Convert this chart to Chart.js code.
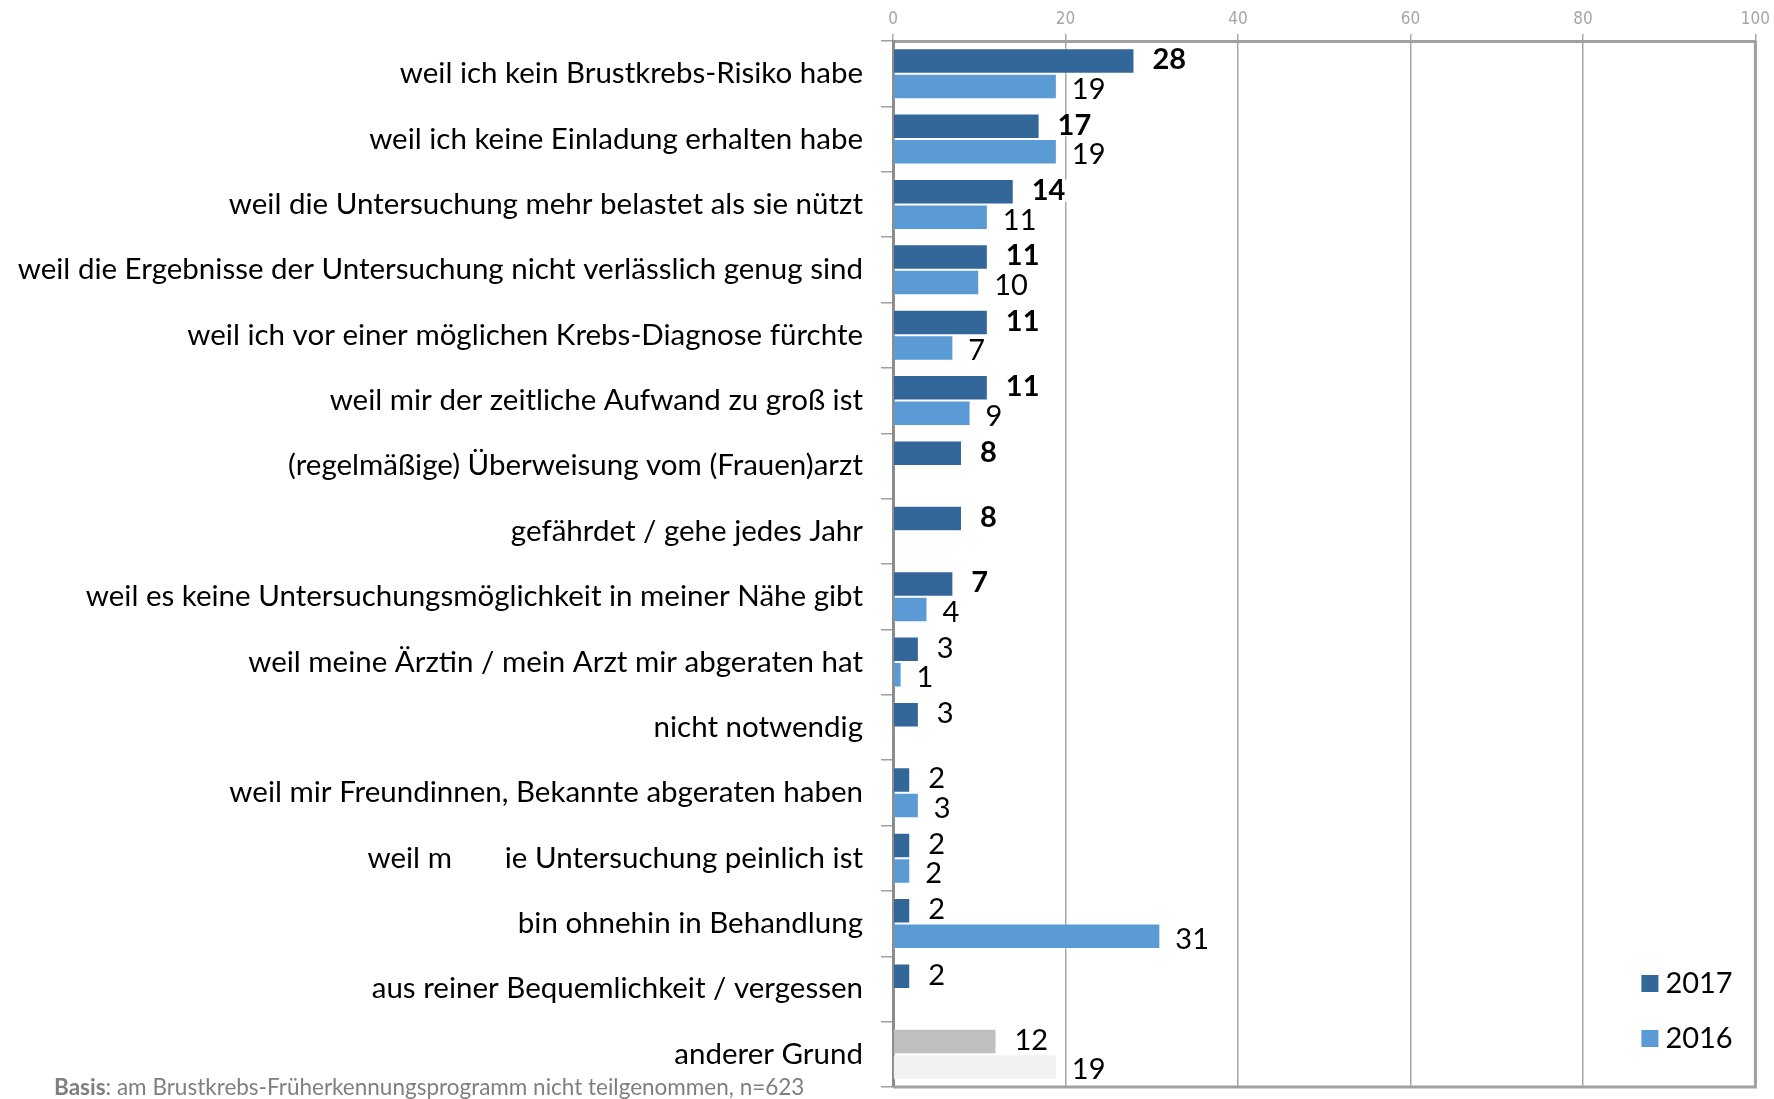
<!DOCTYPE html>
<html>
<head>
<meta charset="utf-8">
<script src="https://cdn.jsdelivr.net/npm/chart.js@4.4.1/dist/chart.umd.min.js"></script>
<style>
  body { margin: 0; background: #fff; }
  #wrap { width: 1774px; height: 1099px; }
</style>
</head>
<body>
<div id="wrap"><canvas id="reasonsChart"></canvas></div>
<script>
const reasons = [
    "weil ich kein Brustkrebs-Risiko habe",
    "weil ich keine Einladung erhalten habe",
    "weil die Untersuchung mehr belastet als sie nützt",
    "weil die Ergebnisse der Untersuchung nicht verlässlich genug sind",
    "weil ich vor einer möglichen Krebs-Diagnose fürchte",
    "weil mir der zeitliche Aufwand zu groß ist",
    "(regelmäßige) Überweisung vom (Frauen)arzt",
    "gefährdet / gehe jedes Jahr",
    "weil es keine Untersuchungsmöglichkeit in meiner Nähe gibt",
    "weil meine Ärztin / mein Arzt mir abgeraten hat",
    "nicht notwendig",
    "weil mir Freundinnen, Bekannte abgeraten haben",
    "weil m       ie Untersuchung peinlich ist",
    "bin ohnehin in Behandlung",
    "aus reiner Bequemlichkeit / vergessen",
    "anderer Grund",
];
const values2017 = [28, 17, 14, 11, 11, 11, 8, 8, 7, 3, 3, 2, 2, 2, 2, 12];
const values2016 = [19, 19, 11, 10, 7, 9, null, null, 4, 1, null, 3, 2, 31, null, 19];
const axisTicks = [0, 20, 40, 60, 80, 100];
const footnoteBold = "Basis";
const footnoteText = ": am Brustkrebs-Früherkennungsprogramm nicht teilgenommen, n=623";

const labelFont = "Lato, 'Open Sans', sans-serif";
const dark = "#346799";
const light = "#5b9bd5";

// last row ("anderer Grund") is drawn in grey
const colors2017 = reasons.map((r, i) => i === reasons.length - 1 ? "#bfbfbf" : dark);
const colors2016 = reasons.map((r, i) => i === reasons.length - 1 ? "#f2f2f2" : light);

const valueLabels = {
    id: "valueLabels",
    afterDatasetsDraw(chart) {
        const ctx = chart.ctx;
        ctx.save();
        chart.data.datasets.forEach((ds, di) => {
            chart.getDatasetMeta(di).data.forEach((bar, i) => {
                const v = ds.data[i];
                if (v == null) return;
                const bold = di === 0 && i < 9;
                ctx.font = (bold ? "bold " : "") + "29px " + labelFont;
                const txt = String(v);
                const w = ctx.measureText(txt).width;
                const x = bar.x + (di === 0 ? 18 : 15);
                const y = bar.y + (di === 0 ? -1 : 3);
                ctx.fillStyle = "#fff";
                ctx.fillRect(x - 3, y - 11, w + 6, 22);
                ctx.fillStyle = "#000";
                ctx.textBaseline = "middle";
                ctx.textAlign = "left";
                ctx.fillText(txt, x, y);
            });
        });
        ctx.restore();
    },
};

const frameAndExtras = {
    id: "frameAndExtras",
    beforeDatasetsDraw(chart) {
        const { ctx, chartArea: a } = chart;
        ctx.save();
        ctx.strokeStyle = "#a0a0a0";
        ctx.lineWidth = 3;
        ctx.beginPath();
        ctx.moveTo(a.right, a.top);
        ctx.lineTo(a.right, a.bottom);
        ctx.lineTo(a.left, a.bottom);
        ctx.stroke();
        ctx.restore();
    },
    afterDraw(chart) {
        const { ctx, chartArea: a } = chart;
        ctx.save();
        // legend
        ctx.textBaseline = "middle";
        ctx.font = "29px " + labelFont;
        chart.data.datasets.forEach((ds, di) => {
            const y = a.bottom - 104 + di * 55;
            const x = a.right - 114;
            ctx.fillStyle = ds.backgroundColor[0];
            ctx.fillRect(x, y - 8, 17, 17);
            ctx.fillStyle = "#000";
            ctx.fillText(ds.label, x + 24, y + 1);
        });
        // footnote
        ctx.fillStyle = "#7f7f7f";
        ctx.font = "bold 22.5px " + labelFont;
        ctx.fillText(footnoteBold, 54, 1088);
        const bw = ctx.measureText(footnoteBold).width;
        ctx.font = "22.5px " + labelFont;
        ctx.fillText(footnoteText, 54 + bw, 1088);
        ctx.restore();
    },
};

new Chart(document.getElementById("reasonsChart"), {
    type: "bar",
    data: {
        labels: reasons,
        datasets: [
            {
                label: "2017",
                data: values2017,
                backgroundColor: colors2017,
                borderColor: "rgba(255,255,255,0.35)",
                borderWidth: 1,
            },
            {
                label: "2016",
                data: values2016,
                backgroundColor: colors2016,
                borderColor: "rgba(255,255,255,0.35)",
                borderWidth: 1,
            },
        ],
    },
    options: {
        indexAxis: "y",
        responsive: true,
        maintainAspectRatio: false,
        animation: false,
        categoryPercentage: 0.78,
        barPercentage: 1.0,
        layout: { padding: { left: 10, right: 17, top: 0, bottom: 12 } },
        plugins: {
            legend: { display: false },
            tooltip: { enabled: false },
        },
        scales: {
            x: {
                position: "top",
                min: axisTicks[0],
                max: axisTicks[axisTicks.length - 1],
                afterBuildTicks: (scale) => {
                    scale.ticks = axisTicks.map((v) => ({ value: v }));
                },
                ticks: {
                    color: "#a6a6a6",
                    font: { family: "'Liberation Sans Narrow', 'DejaVu Sans Condensed', sans-serif", size: 17 },
                    padding: 4,
                },
                grid: { color: "#a6a6a6", lineWidth: 1.5, tickLength: 7 },
                border: { color: "#a0a0a0", width: 3 },
                afterFit: (scale) => { scale.height = 41; },
            },
            y: {
                ticks: {
                    color: "#000",
                    font: { family: labelFont, size: 29.5 },
                    padding: 18,
                    autoSkip: false,
                },
                grid: { offset: true, drawOnChartArea: false, tickLength: 12, color: "#a0a0a0", lineWidth: 1.5 },
                border: { color: "#8c8c8c", width: 3 },
                afterFit: (scale) => {
                    scale.width = 883;
                    scale.paddingTop = 0;
                    scale.paddingBottom = 0;
                },
            },
        },
    },
    plugins: [valueLabels, frameAndExtras],
});
</script>
</body>
</html>
